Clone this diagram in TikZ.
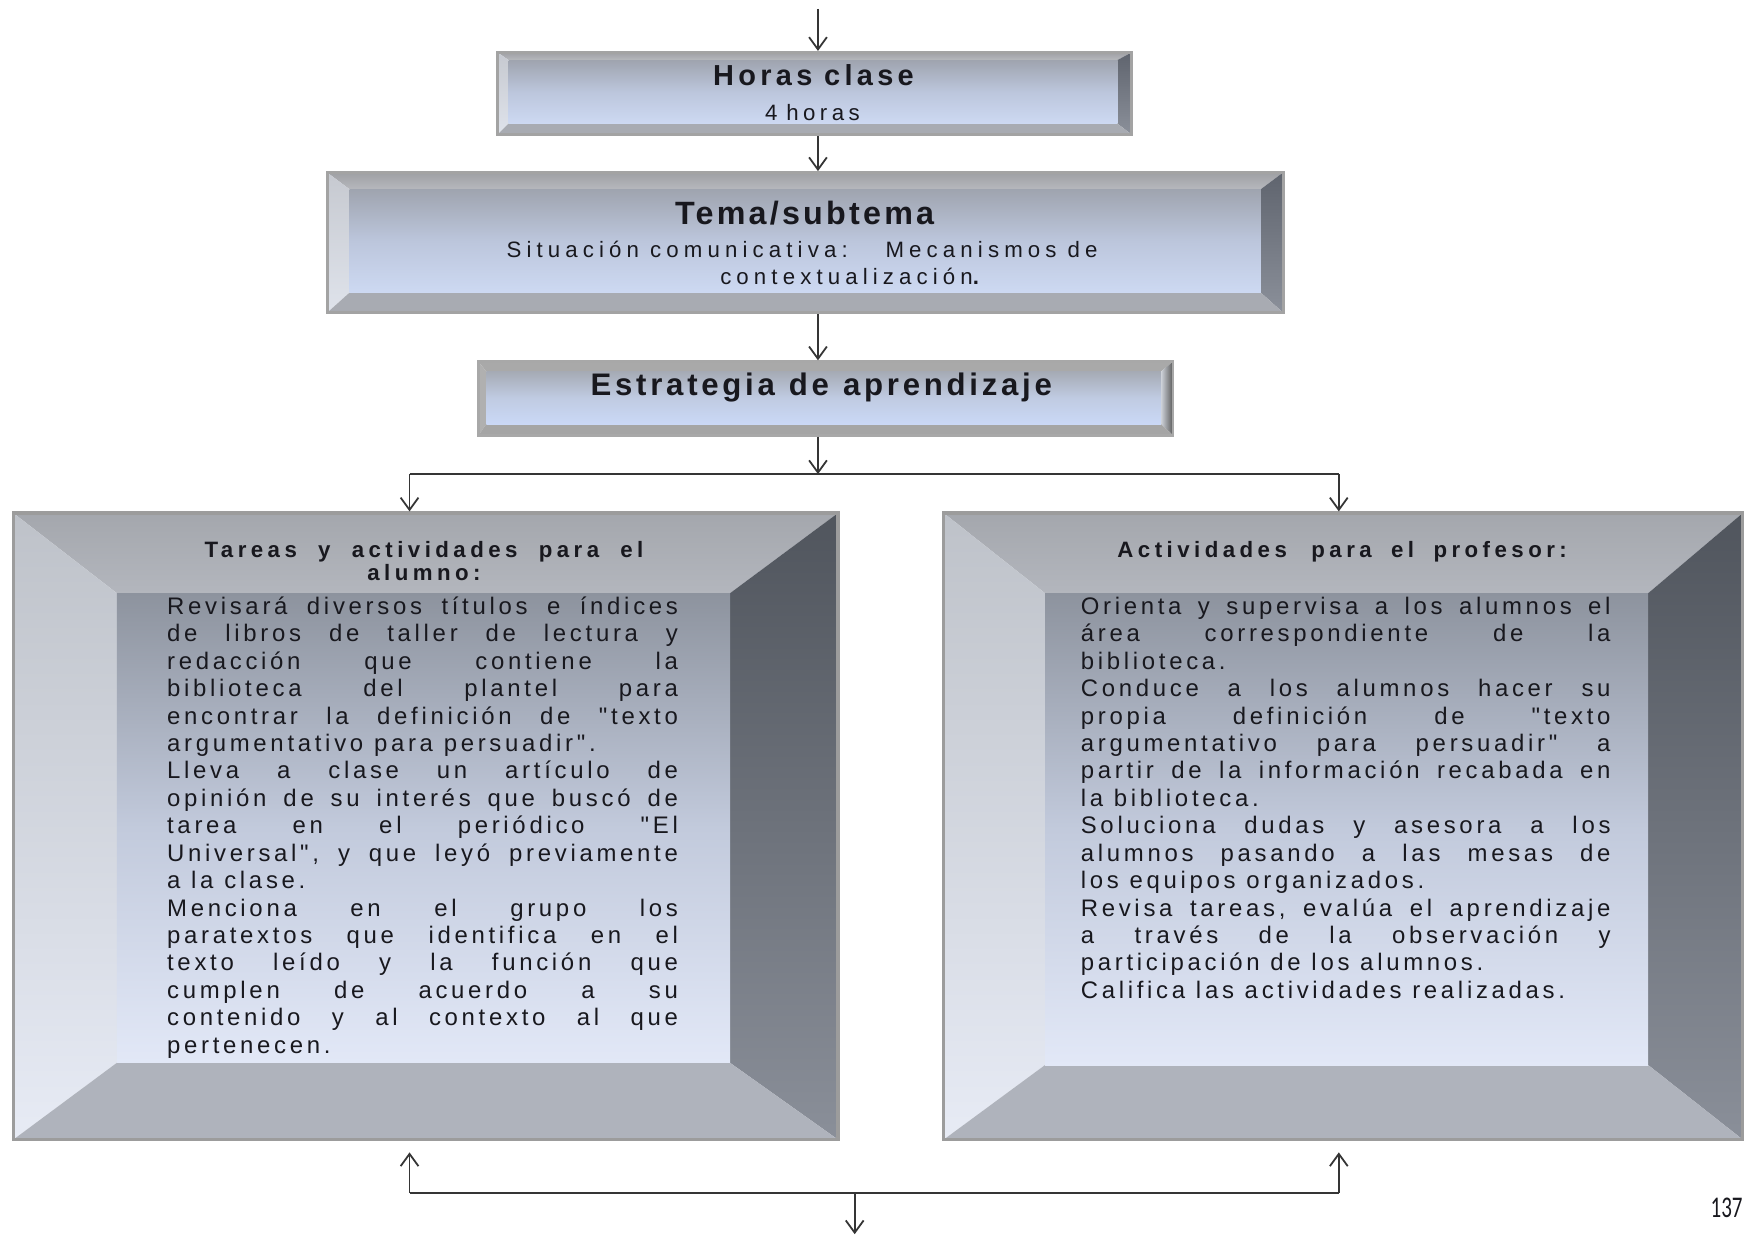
\documentclass[tikz,border=0pt]{standalone}
\usepackage{fontspec}
\usepackage{graphicx}
\setmainfont{Liberation Sans}[Ligatures=TeXOff]
\newfontfamily\pagenumfont{Carlito}
\usetikzlibrary{arrows.meta,fit,calc}

\definecolor{ink}{HTML}{18181E}
\definecolor{wirecol}{HTML}{353535}
% small frames
\definecolor{smTopA}{HTML}{9FA0A4}\definecolor{smTopB}{HTML}{B6B8BD}
\definecolor{smLeftA}{HTML}{C6C9D0}\definecolor{smLeftB}{HTML}{DFE3EB}
\definecolor{smRightA}{HTML}{5F646E}\definecolor{smRightB}{HTML}{8B909A}
\definecolor{smBot}{HTML}{A8ABB2}
\definecolor{smInA}{HTML}{9FA4AF}\definecolor{smInM}{HTML}{BCC6DC}\definecolor{smInB}{HTML}{CDD9F2}
\definecolor{smRim}{HTML}{A3A3A3}
% flat frame
\definecolor{flTop}{HTML}{A9A9A9}\definecolor{flLeft}{HTML}{B0B0B0}
\definecolor{flRightA}{HTML}{D0D4DC}\definecolor{flRightB}{HTML}{5A5A5A}
\definecolor{flBot}{HTML}{A5A5A5}
\definecolor{flInA}{HTML}{A6ABB5}\definecolor{flInM}{HTML}{C0CBE2}\definecolor{flInB}{HTML}{CAD8F6}
\definecolor{flRim}{HTML}{A8A8A8}
% large frames
\definecolor{bgTopA}{HTML}{A4A7AD}\definecolor{bgTopB}{HTML}{B3B6BD}
\definecolor{bgLeftA}{HTML}{BEC2C9}\definecolor{bgLeftB}{HTML}{E7EBF5}
\definecolor{bgRightA}{HTML}{50555D}\definecolor{bgRightB}{HTML}{8A8F99}
\definecolor{bgBot}{HTML}{AFB3BC}
\definecolor{bgInA}{HTML}{8D939E}\definecolor{bgInM}{HTML}{C2CADC}\definecolor{bgInB}{HTML}{E2E8F7}
\definecolor{bgRim}{HTML}{9C9C9C}

% bevel widths given as left/top/right/bottom
\def\setbevel#1/#2/#3/#4\relax{\def\bl{#1}\def\bt{#2}\def\br{#3}\def\bb{#4}}
% \bevelbox{name}{kind}{x1}{y1}{x2}{y2}{l/t/r/b}
\newcommand\bevelbox[7]{%
  \setbevel#7\relax
  \path[#2 top] (#3,#4) -- (#5,#4) -- ({#5-\br},{#4+\bt}) -- ({#3+\bl},{#4+\bt}) -- cycle;
  \path[#2 left] (#3,#4) -- ({#3+\bl},{#4+\bt}) -- ({#3+\bl},{#6-\bb}) -- (#3,#6) -- cycle;
  \path[#2 right] (#5,#4) -- (#5,#6) -- ({#5-\br},{#6-\bb}) -- ({#5-\br},{#4+\bt}) -- cycle;
  \path[#2 bottom] (#3,#6) -- ({#3+\bl},{#6-\bb}) -- ({#5-\br},{#6-\bb}) -- (#5,#6) -- cycle;
  \path[#2 inner] ({#3+\bl},{#4+\bt}) rectangle ({#5-\br},{#6-\bb});
  \node[#2 rim, inner sep=0pt, fit={(#3,#4) (#5,#6)}] (#1) {};
}

% justified lines: the gaps between words share the free room of the line
\newlength\jw
\def\jsplit#1 #2\jend{#1\ifx\relax#2\relax\else\hskip .3em plus 1fill\relax\jsplit#2\jend\fi}
\newcommand\jline[1]{\makebox[\jw][l]{\jsplit#1 \jend}\\}
\newcommand\eline[1]{#1\\}

% tracked Liberation Sans: size, leading, tracking
\newcommand\trk[3]{\fontsize{#1}{#2}\selectfont\addfontfeatures{LetterSpace=#3}}
% word space, set inside the text so that the alignment keeps it
\newcommand\wsp[1]{\spaceskip=#1em plus .2em minus .05em\xspaceskip=\spaceskip\relax}
\newcommand\bodyfont{\trk{21.5}{24.65}{15.5}}

\begin{document}
\begin{tikzpicture}[x=1pt, y=-1pt,
  small top/.style={top color=smTopA, bottom color=smTopB},
  small left/.style={top color=smLeftA, bottom color=smLeftB},
  small right/.style={top color=smRightA, bottom color=smRightB},
  small bottom/.style={fill=smBot},
  small inner/.style={top color=smInA, bottom color=smInB, middle color=smInM},
  small rim/.style={draw=smRim, line width=2.5pt},
  flat top/.style={fill=flTop},
  flat left/.style={fill=flLeft},
  flat right/.style={left color=flRightA, right color=flRightB},
  flat bottom/.style={fill=flBot},
  flat inner/.style={top color=flInA, bottom color=flInB, middle color=flInM},
  flat rim/.style={draw=flRim, line width=2.5pt},
  big top/.style={top color=bgTopA, bottom color=bgTopB},
  big left/.style={top color=bgLeftA, bottom color=bgLeftB},
  big right/.style={top color=bgRightA, bottom color=bgRightB},
  big bottom/.style={fill=bgBot},
  big inner/.style={top color=bgInA, bottom color=bgInB, middle color=bgInM},
  big rim/.style={draw=bgRim, line width=3pt},
  txt/.style={text=ink, inner sep=0pt},
  wire/.style={draw=wirecol, line width=1.6pt},
  arr/.style={wire, -{Straight Barb[length=11pt, width=16pt]}},
]
\useasboundingbox (0,0) rectangle (1568,1110);
\fill[white] (0,0) rectangle (1568,1110);

% framed boxes
\bevelbox{hrs}{small}{447}{47}{1017}{121}{10/7/13/10}
\bevelbox{tema}{small}{294}{155}{1153}{281}{20/15/20/18}
\bevelbox{estr}{flat}{430}{325}{1054}{391}{7/9/11/10}
\bevelbox{alum}{big}{12}{461}{753}{1024}{93/72/97/69}
\bevelbox{prof}{big}{848}{461}{1566}{1024}{91/72/85/67}

% box texts
\node[txt, anchor=base, font=\bfseries\trk{26}{30}{15}]
  (hrs-title) at (731,77) {\wsp{.4}Horas clase};
\node[txt, anchor=base, font=\trk{20}{24}{20}]
  (hrs-text) at (730,108) {\wsp{.4}4 horas};

\node[txt, anchor=base, font=\bfseries\trk{29}{33}{10}]
  (tema-title) at (723,202) {\wsp{.3}Tema/subtema};
\node[txt, anchor=base west, align=left, text width=600pt, font=\trk{20}{25}{23}]
  (tema-text) at (455,231) {\wsp{.5}Situación comunicativa:\hspace{34pt}Mecanismos de\\\hspace*{192pt}contextualización\textbf{.}};

\node[txt, anchor=base, font=\bfseries\trk{28}{32}{12}]
  (estr-title) at (738,355) {\wsp{.45}Estrategia de aprendizaje};

\node[txt, anchor=base, align=center, text width=480pt, font=\bfseries\trk{20}{21}{20}]
  (alum-title) at (381,501) {\wsp{.74}Tareas y actividades para el\\alumno:};
\node[txt, anchor=base, align=center, text width=480pt, font=\bfseries\trk{20}{21}{20}]
  (prof-title) at (1206,501) {\wsp{.68}Actividades\hspace{22pt}para el profesor:};

\node[txt, anchor=base west, align=left, text width=470pt, font=\bodyfont\setlength\jw{459pt}]
  (alum-text) at (150,552) {\wsp{.45}%
  \jline{Revisará diversos títulos e índices}
  \jline{de libros de taller de lectura y}
  \jline{redacción que contiene la}
  \jline{biblioteca del plantel para}
  \jline{encontrar la definición de "texto}
  \eline{argumentativo para persuadir".}
  \jline{Lleva a clase un artículo de}
  \jline{opinión de su interés que buscó de}
  \jline{tarea en el periódico "El}
  \jline{Universal", y que leyó previamente}
  \eline{a la clase.}
  \jline{Menciona en el grupo los}
  \jline{paratextos que identifica en el}
  \jline{texto leído y la función que}
  \jline{cumplen de acuerdo a su}
  \jline{contenido y al contexto al que}
  pertenecen.};

\node[txt, anchor=base west, align=left, text width=490pt, font=\bodyfont\setlength\jw{476pt}]
  (prof-text) at (971,552) {\wsp{.45}%
  \jline{Orienta y supervisa a los alumnos el}
  \jline{área correspondiente de la}
  \eline{biblioteca.}
  \jline{Conduce a los alumnos hacer su}
  \jline{propia definición de "texto}
  \jline{argumentativo para persuadir" a}
  \jline{partir de la información recabada en}
  \eline{la biblioteca.}
  \jline{Soluciona dudas y asesora a los}
  \jline{alumnos pasando a las mesas de}
  \eline{los equipos organizados.}
  \jline{Revisa tareas, evalúa el aprendizaje}
  \jline{a través de la observación y}
  \eline{participación de los alumnos.}
  Califica las actividades realizadas.};

% connectors
\coordinate (in) at (735,8);
\draw[arr] (in) -- (in |- hrs.north);
\draw[arr] (hrs.south -| in) -- (tema.north -| in);
\draw[arr] (tema.south -| in) -- (estr.north -| in);
\coordinate (split) at (735,426);
\draw[arr] (estr.south -| in) -- (split);
\coordinate (sl) at (368,426);
\coordinate (sr) at (1203,426);
\draw[wire] (sl) -- (sr);
\draw[arr] (sl) -- (sl |- alum.north);
\draw[arr] (sr) -- (sr |- prof.north);

\coordinate (jl) at (368,1072);
\coordinate (jr) at (1203,1072);
\coordinate (jm) at (768,1072);
\coordinate (out) at (768,1109);
\draw[wire] (jl) -- (jr);
\draw[arr, shorten >=10pt] (jl) -- (jl |- alum.south);
\draw[arr, shorten >=10pt] (jr) -- (jr |- prof.south);
\draw[arr] (jm) -- (out);

% page number
\node[txt, anchor=base east] (pagenum) at (1566,1094)
  {\scalebox{0.7}[1]{\pagenumfont\fontsize{27}{27}\selectfont 137}};
\end{tikzpicture}
\end{document}
